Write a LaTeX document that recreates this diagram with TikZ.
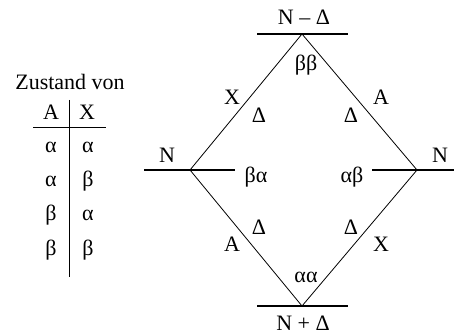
\documentclass[tikz,border=0pt]{standalone}
\usepackage{fontspec}
\setmainfont{Liberation Serif}
\begin{document}
\begin{tikzpicture}[x=1pt,y=-1pt,
  lbl/.style={inner sep=0pt,font=\fontsize{22}{22}\selectfont},
  tlbl/.style={inner sep=0pt,font=\fontsize{22}{22}\selectfont},
  edge/.style={line width=0.8pt},
  level/.style={line width=1.1pt},
  rule/.style={line width=1pt}]
\useasboundingbox (0,0) rectangle (454,336);
% diamond vertices
\coordinate (T) at (302,34);
\coordinate (L) at (190,170);
\coordinate (R) at (417,170);
\coordinate (B) at (302,306);
% level line ends
\coordinate (T1) at (257,34);  \coordinate (T2) at (348,34);
\coordinate (L1) at (144,170); \coordinate (L2) at (235,170);
\coordinate (R1) at (372,170); \coordinate (R2) at (454,170);
\coordinate (B1) at (257,306); \coordinate (B2) at (348,306);
\draw[level] (T1) -- (T2);
\draw[level] (L1) -- (L2);
\draw[level] (R1) -- (R2);
\draw[level] (B1) -- (B2);
\draw[edge] (T) -- (L) -- (B) -- (R) -- cycle;
% labels
\node[lbl,anchor=base] (nt) at (304,25) {N – Δ};
\node[lbl,anchor=base] (nb) at (303,330) {N + Δ};
\node[lbl] (nl) at (167,155) {N};
\node[lbl] (nr) at (440,155) {N};
\node[lbl] (bb) at (306,65) {ββ};
\node[lbl] (ba) at (256,177) {βα};
\node[lbl] (ab) at (352,177) {αβ};
\node[lbl] (aa) at (306,277) {αα};
\node[lbl] (x1) at (232,97) {X};
\node[lbl] (a1) at (381,97) {A};
\node[lbl] (d1) at (259,115) {Δ};
\node[lbl] (d2) at (351,115) {Δ};
\node[lbl] (d3) at (259,227) {Δ};
\node[lbl] (d4) at (351,227) {Δ};
\node[lbl] (a2) at (232,244) {A};
\node[lbl] (x2) at (381,244) {X};
% table
\node[tlbl] (zv) at (70,82) {Zustand von};
\node[tlbl] (hA) at (51,112) {A};
\node[tlbl] (hX) at (87,112) {X};
\coordinate (h1) at (33,128); \coordinate (h2) at (106,128);
\coordinate (v1) at (69,100); \coordinate (v2) at (69,277);
\draw[rule] (h1) -- (h2);
\draw[rule] (v1) -- (v2);
\node[tlbl,anchor=base] (r1a) at (51,153) {α};
\node[tlbl,anchor=base] (r1b) at (88,153) {α};
\node[tlbl,anchor=base] (r2a) at (51,187) {α};
\node[tlbl,anchor=base] (r2b) at (88,187) {β};
\node[tlbl,anchor=base] (r3a) at (51,221) {β};
\node[tlbl,anchor=base] (r3b) at (88,221) {α};
\node[tlbl,anchor=base] (r4a) at (51,255) {β};
\node[tlbl,anchor=base] (r4b) at (88,255) {β};
\end{tikzpicture}
\end{document}
